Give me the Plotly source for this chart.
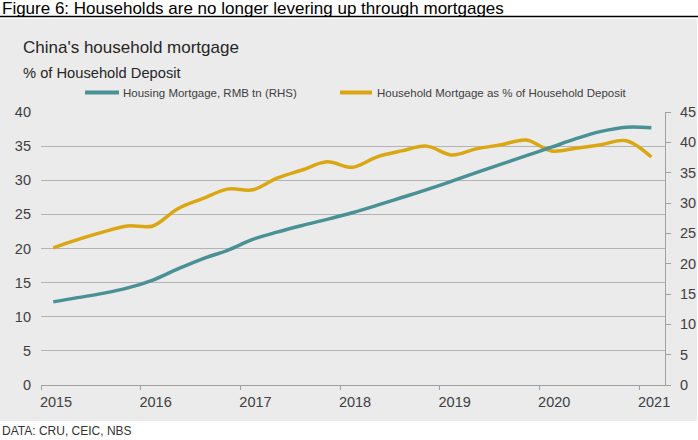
import pandas as pd
import plotly.graph_objects as go

# quarterly observations, plotted at mid-quarter
dates = [
    "2015-02-15", "2015-05-15", "2015-08-15", "2015-11-15",
    "2016-02-15", "2016-05-15", "2016-08-15", "2016-11-15",
    "2017-02-15", "2017-05-15", "2017-08-15", "2017-11-15",
    "2018-02-15", "2018-05-15", "2018-08-15", "2018-11-15",
    "2019-02-15", "2019-05-15", "2019-08-15", "2019-11-15",
    "2020-02-15", "2020-05-15", "2020-08-15", "2020-11-15",
    "2021-02-15",
]

# Housing mortgage, RMB tn (right axis)
housing_mortgage = [
    13.7, 14.4, 15.1, 16.0,
    17.3, 19.1, 20.8, 22.2,
    24.0, 25.2, 26.3, 27.3,
    28.4, 29.6, 30.9, 32.2,
    33.6, 35.0, 36.4, 37.8,
    39.2, 40.6, 41.8, 42.5,
    42.4,
]

# Household mortgage as % of household deposit (left axis)
mortgage_pct_deposit = [
    20.1, 21.3, 22.4, 23.3,
    23.3, 25.8, 27.3, 28.7,
    28.6, 30.3, 31.5, 32.7,
    31.9, 33.4, 34.3, 35.0,
    33.7, 34.6, 35.2, 35.9,
    34.3, 34.7, 35.2, 35.8,
    33.4,
]

year_ticks = ["2015", "2016", "2017", "2018", "2019", "2020", "2021"]

TEAL = "#4a9196"
GOLD = "#daa712"
PANEL = "#ebebeb"
GRID = "#b3b3b3"
TEXT = "#404040"
FONT = "Liberation Sans, Arial, sans-serif"

W, H = 698, 440
ML, MR, MT, MB = 41, 33, 112, 55
PW, PH = W - ML - MR, H - MT - MB


def px_x(p):
    """pixel column -> paper x"""
    return (p - ML) / PW


def px_y(p):
    """pixel row -> paper y"""
    return (H - MB - p) / PH


x = pd.to_datetime(dates)

fig = go.Figure()
fig.add_trace(go.Scatter(
    x=x, y=housing_mortgage, yaxis="y2", mode="lines",
    name="Housing Mortgage, RMB tn (RHS)",
    line=dict(color=TEAL, width=3.5, shape="spline", smoothing=1.0)))
fig.add_trace(go.Scatter(
    x=x, y=mortgage_pct_deposit, yaxis="y", mode="lines",
    name="Household Mortgage as % of Household Deposit",
    line=dict(color=GOLD, width=3.5, shape="spline", smoothing=1.0)))

fig.update_layout(
    width=W, height=H,
    margin=dict(l=ML, r=MR, t=MT, b=MB, pad=0, autoexpand=False),
    paper_bgcolor="white",
    plot_bgcolor=PANEL,
    showlegend=False,
    font=dict(family=FONT, color=TEXT),
    xaxis=dict(
        type="date",
        range=["2015-01-01", "2021-04-06"],
        tickvals=[y + "-01-01" for y in year_ticks],
        ticktext=year_ticks,
        ticks="outside", ticklen=4, tickcolor="#a0a0a0",
        showline=True, linecolor="#a0a0a0", linewidth=1,
        showgrid=False, zeroline=False, automargin=False,
        ticklabelshift=15,
        tickfont=dict(size=14.5, color=TEXT),
    ),
    yaxis=dict(
        range=[0, 40], dtick=5,
        showgrid=True, gridcolor=GRID, gridwidth=1,
        zeroline=False, showline=False, ticks="", automargin=False,
        ticklabelstandoff=9,
        tickfont=dict(size=14.5, color=TEXT),
    ),
    yaxis2=dict(
        range=[0, 45], dtick=5, overlaying="y", side="right",
        showgrid=False, zeroline=False, automargin=False,
        showline=True, linecolor="#a0a0a0", linewidth=1,
        ticks="outside", ticklen=5, tickcolor="#a0a0a0",
        ticklabelstandoff=6,
        tickfont=dict(size=14.5, color=TEXT),
    ),
)

# grey panel and the rule under the figure caption
fig.add_shape(type="rect", xref="paper", yref="paper", layer="below",
              x0=px_x(0), x1=px_x(697), y0=px_y(421), y1=px_y(19),
              fillcolor=PANEL, line_width=0)
fig.add_shape(type="line", xref="paper", yref="paper",
              x0=px_x(0), x1=px_x(698), y0=px_y(16.5), y1=px_y(16.5),
              line=dict(color="black", width=1.5))

# legend drawn by hand to match the spacing of the original
legend_items = [
    (85, 119, 121, TEAL, "Housing Mortgage, RMB tn (RHS)"),
    (340, 372, 375, GOLD, "Household Mortgage as % of Household Deposit"),
]
for lx0, lx1, tx, col, label in legend_items:
    fig.add_shape(type="line", xref="paper", yref="paper",
                  x0=px_x(lx0), x1=px_x(lx1), y0=px_y(92.5), y1=px_y(92.5),
                  line=dict(color=col, width=4))
    fig.add_annotation(xref="paper", yref="paper", x=px_x(tx), y=px_y(92.5),
                       xanchor="left", yanchor="middle", showarrow=False,
                       text=label, font=dict(size=11.5, color=TEXT))

texts = [
    (0, 8, "Figure 6: Households are no longer levering up through mortgages", 17, "black"),
    (21, 48, "China's household mortgage", 17, "#262626"),
    (21, 73, "% of Household Deposit", 14.7, "#262626"),
    (0, 431, "DATA: CRU, CEIC, NBS", 12, "#333333"),
]
for tx, ty, label, size, col in texts:
    fig.add_annotation(xref="paper", yref="paper", x=px_x(tx), y=px_y(ty),
                       xanchor="left", yanchor="middle", showarrow=False,
                       text=label, font=dict(size=size, color=col))

# the page otherwise keeps the browser's default 8px body margin
fig.write_html("out.html", config={"displayModeBar": False},
               post_script="document.body.style.margin = '0';")
